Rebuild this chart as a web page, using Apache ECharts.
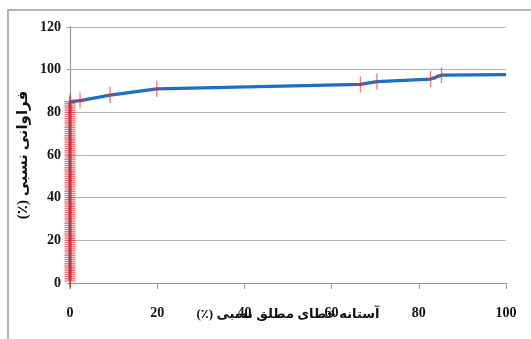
<!DOCTYPE html>
<html>
<head>
<meta charset="utf-8">
<script src="https://cdn.jsdelivr.net/npm/echarts@6/dist/echarts.min.js"></script>
<style>
  html, body { margin: 0; padding: 0; background: #ffffff; }
  #chart { width: 531px; height: 339px; }
</style>
</head>
<body>
<div id="chart"></div>
<script>
// Cumulative relative frequency (%) of samples whose relative absolute error is zero
const zeroErrorFreq = [
  1, 2, 3, 4, 5, 6, 7, 8, 9, 10, 11, 12, 13, 14, 15, 16, 17, 18, 19, 20,
  21, 22, 23, 24, 25, 26, 27, 28, 29, 30, 31, 32, 33, 34, 35, 36, 37, 38, 39, 40,
  41, 42, 43, 44, 45, 46, 47, 48, 49, 50, 51, 52, 53, 54, 55, 56, 57, 58, 59, 60,
  61, 62, 63, 64, 65, 66, 67, 68, 69, 70, 71, 72, 73, 74, 75, 76, 77, 78, 79, 80,
  81, 82, 83, 84
];
// Error threshold (%) and cumulative relative frequency (%) beyond zero error
const thresholds = [0, 2.3, 9.2, 19.9, 66.6, 70.4, 82.7, 85.2, 100];
const cumFreq    = [85.0, 85.5, 88.1, 91.0, 93.1, 94.4, 95.6, 97.4, 97.7];
// The curve's final point closes the line at the axis end without a marker
const unmarkedLast = 1;

const xTicks = [0, 20, 40, 60, 80, 100];
const yTicks = [0, 20, 40, 60, 80, 100, 120];

// Right-to-left embedding keeps the percent sign on the left of the Persian titles
const rtl = s => '\u202B' + s + '\u202C';
const xTitle = rtl('آستانه خطای مطلق نسبی (٪)');
const yTitle = rtl('فراوانی نسبی (٪)');

const linePts = zeroErrorFreq.map(v => [0, v])
  .concat(thresholds.map((t, i) => [t, cumFreq[i]]));
const markerPts = linePts.slice(0, linePts.length - unmarkedLast);

const serif = '"Liberation Serif", "Times New Roman", "DejaVu Sans", serif';
// Plus-shaped marker: a thin vertical bar crossed by a thin horizontal bar
const plusMark = 'path://M4.4,0L5.6,0L5.6,7.3L10,7.3L10,8.7L5.6,8.7L5.6,16L4.4,16L4.4,8.7L0,8.7L0,7.3L4.4,7.3Z';

const chart = echarts.init(document.getElementById('chart'), null, { renderer: 'canvas' });
chart.setOption({
  backgroundColor: '#ffffff',
  animation: false,
  graphic: [{
    type: 'rect',
    shape: { x: 8, y: 10, width: 540, height: 340 },
    style: { fill: 'none', stroke: '#9a9a9a', lineWidth: 1.5 },
    z: 0
  }],
  grid: { left: 70, right: 25, top: 27, bottom: 56, containLabel: false },
  xAxis: {
    type: 'value',
    min: xTicks[0], max: xTicks[xTicks.length - 1], interval: 20,
    name: xTitle,
    nameLocation: 'middle',
    nameGap: 25,
    nameMoveOverlap: false,
    nameTextStyle: { fontFamily: serif, fontSize: 13, fontWeight: 'bold', color: '#111' },
    axisLine: { show: true, lineStyle: { color: '#9a9a9a', width: 1.2 } },
    axisTick: { show: true, length: 6, lineStyle: { color: '#9a9a9a' } },
    axisLabel: { margin: 23, fontFamily: serif, fontSize: 14, fontWeight: 'bold', color: '#111' },
    splitLine: { show: false }
  },
  yAxis: {
    type: 'value',
    min: yTicks[0], max: yTicks[yTicks.length - 1], interval: 20,
    name: yTitle,
    nameLocation: 'middle',
    nameRotate: 90,
    nameGap: 39,
    nameMoveOverlap: false,
    nameTextStyle: { fontFamily: serif, fontSize: 15, fontWeight: 'bold', color: '#111' },
    axisLine: { show: true, lineStyle: { color: '#9a9a9a', width: 1.2 } },
    axisTick: { show: true, length: 3, lineStyle: { color: '#9a9a9a' } },
    axisLabel: { margin: 9, fontFamily: serif, fontSize: 14, fontWeight: 'bold', color: '#111' },
    splitLine: { show: true, lineStyle: { color: '#b4b4b4', width: 1.2 } }
  },
  series: [
    {
      type: 'line',
      data: linePts,
      showSymbol: false,
      symbol: 'none',
      lineStyle: { color: '#1d6fc6', width: 3.2 },
      z: 2
    },
    {
      type: 'scatter',
      data: markerPts,
      symbol: plusMark,
      symbolSize: [11, 16],
      symbolKeepAspect: false,
      itemStyle: { color: 'rgba(236,40,40,0.8)' },
      z: 3
    }
  ]
});
</script>
</body>
</html>
